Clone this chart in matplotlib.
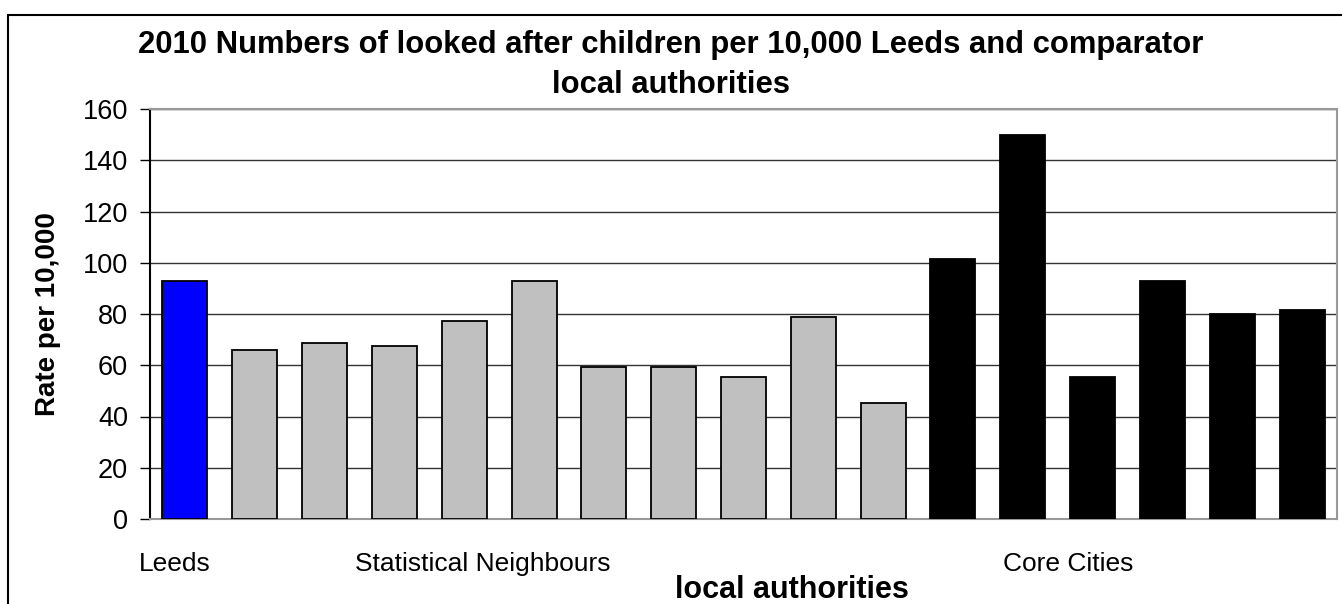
import numpy as np
import matplotlib
matplotlib.use("Agg")
import matplotlib.pyplot as plt
import matplotlib.transforms as mtransforms
from matplotlib.patches import Rectangle

plt.rcParams['font.family'] = ['Liberation Sans', 'DejaVu Sans']

# datos
leeds = [92.7]
vecinos = [66.0, 68.8, 67.4, 77.4, 92.7, 59.2, 59.2, 55.3, 78.8, 45.1]
ciudades = [101.3, 149.9, 55.4, 93.0, 79.9, 81.4]
grupos = ["Leeds", "Statistical Neighbours", "Core Cities"]
pos_grupos = [-0.14, 4.27, 12.65]
colores = ["#0000ff", "#c0c0c0", "#000000"]
titulo = ["2010 Numbers of looked after children per 10,000 Leeds and comparator",
          "local authorities"]

valores = leeds + vecinos + ciudades
colores_barras = [colores[0]] * len(leeds) + [colores[1]] * len(vecinos) + [colores[2]] * len(ciudades)
x = np.arange(len(valores))

W, H = 1342, 604
fig = plt.figure(figsize=(W / 100, H / 100), dpi=100)
ax = fig.add_axes([150 / W, 1 - 519 / H, (1337 - 150) / W, (519 - 109) / H])

ax.bar(x, valores, width=0.645, color=colores_barras, edgecolor="black", linewidth=1.3, zorder=3)

ax.set_xlim(-0.5, len(valores) - 0.5)
ax.set_ylim(0, 160)
ax.set_yticks(np.arange(0, 161, 20))
ax.tick_params(axis="y", labelsize=19.5, length=7.2, width=1, direction="out", pad=8.5)
ax.set_xticks([])
ax.yaxis.grid(True, color="#333333", linewidth=1)
ax.set_axisbelow(True)

ax.spines["left"].set_color("black")
ax.spines["bottom"].set_color("#999999")
ax.spines["top"].set_color("#999999")
ax.spines["right"].set_color("#999999")
for s in ax.spines.values():
    s.set_linewidth(1.5)

# etiquetas de grupo debajo del eje (x en datos, y en figura)
trans = mtransforms.blended_transform_factory(ax.transData, fig.transFigure)
for nombre, p in zip(grupos, pos_grupos):
    ax.text(p, 1 - 571 / H, nombre, transform=trans, ha="center", va="baseline", fontsize=19)

fig.text(792 / W, 1 - 598 / H, "local authorities", ha="center", va="baseline",
         fontsize=22, fontweight="bold")

ax.set_ylabel("Rate per 10,000", fontsize=20, fontweight="bold")
ax.yaxis.label.set_va("center")
ax.yaxis.set_label_coords((48 - 150) / (1337 - 150), 0.5)

fig.text(0.5, 1 - 53 / H, titulo[0], ha="center", va="baseline", fontsize=22.3, fontweight="bold")
fig.text(0.5, 1 - 93 / H, titulo[1], ha="center", va="baseline", fontsize=22.3, fontweight="bold")

# marco exterior (solo se ven borde izquierdo y superior)
fig.patches.append(Rectangle((8 / W, -0.5), 2, 1.5 - 15 / H, transform=fig.transFigure,
                             fill=False, edgecolor="black", linewidth=1.5))

fig.savefig("out.png", dpi=100)
